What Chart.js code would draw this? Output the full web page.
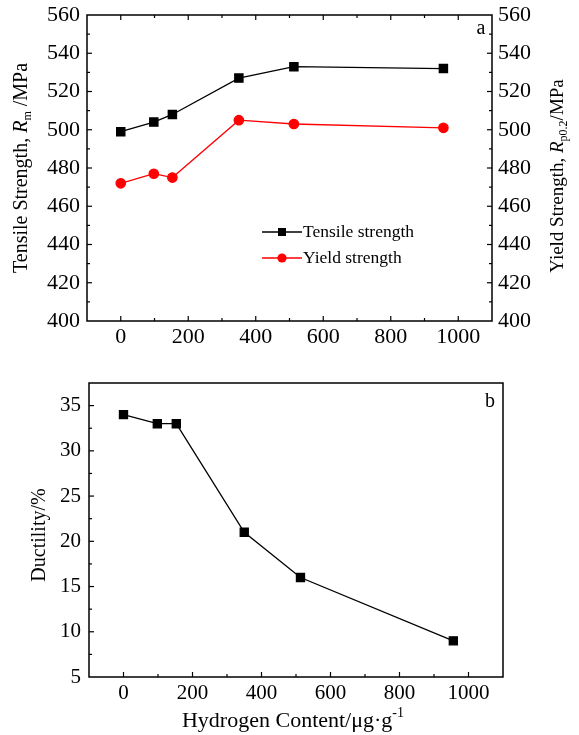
<!DOCTYPE html>
<html>
<head>
<meta charset="utf-8">
<script src="https://cdn.jsdelivr.net/npm/chart.js@4.4.1/dist/chart.umd.min.js"></script>
<style>
  html, body { margin: 0; padding: 0; background: #fff; }
  #wrapA { position: absolute; left: 0; top: 0; width: 579px; height: 370px; }
  #wrapB { position: absolute; left: 0; top: 370px; width: 579px; height: 365px; }
</style>
</head>
<body>
<div id="wrapA"><canvas id="chartA" width="579" height="370"></canvas></div>
<div id="wrapB"><canvas id="chartB" width="579" height="365"></canvas></div>
<script>
// data
const hydrogen = [0, 98, 153, 350, 513, 956];
const tensile = [499, 504, 508, 527, 533, 532];
const yieldStr = [472, 477, 475, 505, 503, 501];
const ductility = [34, 33, 33, 21, 16, 9];

const xTicks = [0, 200, 400, 600, 800, 1000];
const strengthTicks = [400, 420, 440, 460, 480, 500, 520, 540, 560];
const ductilityTicks = [5, 10, 15, 20, 25, 30, 35];

const FONT = "'Liberation Serif', 'Times New Roman', serif";

function pts(xs, ys) {
    return xs.map((x, i) => ({ x: x, y: ys[i] }));
}

function setTicks(list) {
    return (scale) => { scale.ticks = list.map(v => ({ value: v })); };
}

// fixed box size, no extra label padding
function fixW(w) {
    return (s) => { s.width = w; s.paddingTop = 0; s.paddingBottom = 0; };
}
function fixH(h) {
    return (s) => { s.height = h; s.paddingLeft = 0; s.paddingRight = 0; };
}

const plain = (v) => String(v);

// text with italic / sub / sup pieces, centred at (x, y)
function drawRich(ctx, parts, x, y, size, rot) {
    ctx.save();
    ctx.translate(x, y);
    if (rot) ctx.rotate(rot);
    ctx.fillStyle = "#000";
    ctx.textBaseline = "middle";
    ctx.textAlign = "left";
    const fontOf = (p) => {
        const s = (p.sub || p.sup) ? Math.round(size * 0.62) : size;
        return (p.italic ? "italic " : "") + s + "px " + FONT;
    };
    let w = 0;
    parts.forEach(p => { ctx.font = fontOf(p); w += ctx.measureText(p.t).width; });
    let cx = -w / 2;
    parts.forEach(p => {
        ctx.font = fontOf(p);
        let dy = 0;
        if (p.sub) dy = size * 0.3;
        if (p.sup) dy = -size * 0.35;
        ctx.fillText(p.t, cx, dy);
        cx += ctx.measureText(p.t).width;
    });
    ctx.restore();
}

// frame plus inward ticks (major + minor)
function frameTicks(specs) {
    return {
        id: "frameTicks",
        afterDraw(chart) {
            const ctx = chart.ctx, a = chart.chartArea;
            ctx.save();
            ctx.strokeStyle = "#000";
            ctx.lineWidth = 1.5;
            ctx.strokeRect(a.left, a.top, a.right - a.left, a.bottom - a.top);
            ctx.lineWidth = 1.2;
            specs.forEach(sp => {
                const sc = chart.scales[sp.scale];
                const vals = sc.ticks.map(t => t.value);
                const marks = [];
                vals.forEach((v, i) => {
                    marks.push([v, 5]);
                    if (i < vals.length - 1) marks.push([(v + vals[i + 1]) / 2, 3]);
                });
                const step = vals[1] - vals[0];
                marks.push([vals[0] - step / 2, 3]);
                marks.push([vals[vals.length - 1] + step / 2, 3]);
                marks.forEach(([v, len]) => {
                    if (v <= sc.min || v >= sc.max) return;
                    const p = sc.getPixelForValue(v);
                    ctx.beginPath();
                    if (sp.side === "bottom") { ctx.moveTo(p, a.bottom); ctx.lineTo(p, a.bottom - len); }
                    if (sp.side === "top") { ctx.moveTo(p, a.top); ctx.lineTo(p, a.top + len); }
                    if (sp.side === "left") { ctx.moveTo(a.left, p); ctx.lineTo(a.left + len, p); }
                    if (sp.side === "right") { ctx.moveTo(a.right, p); ctx.lineTo(a.right - len, p); }
                    ctx.stroke();
                });
            });
            ctx.restore();
        }
    };
}

const fontA = { family: FONT, size: 22 };
const fontB = { family: FONT, size: 21 };

// ---- chart a ----
const annotA = {
    id: "annotA",
    afterDraw(chart) {
        const ctx = chart.ctx;
        drawRich(ctx, [{ t: "Tensile Strength, " }, { t: "R", italic: true }, { t: "m", sub: true }, { t: " /MPa" }], 22, 168, 20, -Math.PI / 2);
        drawRich(ctx, [{ t: "Yield Strength, " }, { t: "R", italic: true }, { t: "p0.2", sub: true }, { t: "/MPa" }], 558, 176, 19, -Math.PI / 2);
        drawRich(ctx, [{ t: "a" }], 481, 29, 20, 0);

        // legend
        const items = [
            { label: "Tensile strength", color: "#000", style: "rect", y: 232 },
            { label: "Yield strength", color: "#f00", style: "circle", y: 258 }
        ];
        items.forEach(it => {
            ctx.save();
            ctx.strokeStyle = it.color;
            ctx.fillStyle = it.color;
            ctx.lineWidth = 1.3;
            ctx.beginPath();
            ctx.moveTo(262, it.y);
            ctx.lineTo(302, it.y);
            ctx.stroke();
            if (it.style === "rect") {
                ctx.fillRect(278, it.y - 4, 8, 8);
            } else {
                ctx.beginPath();
                ctx.arc(282, it.y, 4.6, 0, Math.PI * 2);
                ctx.fill();
            }
            ctx.fillStyle = "#000";
            ctx.font = "17.5px " + FONT;
            ctx.textBaseline = "middle";
            ctx.fillText(it.label, 303, it.y);
            ctx.restore();
        });
    }
};

new Chart(document.getElementById("chartA"), {
    type: "line",
    data: {
        datasets: [
            {
                label: "Tensile strength",
                data: pts(hydrogen, tensile),
                borderColor: "#000",
                backgroundColor: "#000",
                borderWidth: 1.3,
                pointStyle: "rect",
                pointRadius: 5.8,
                tension: 0,
                yAxisID: "y"
            },
            {
                label: "Yield strength",
                data: pts(hydrogen, yieldStr),
                borderColor: "#f00",
                backgroundColor: "#f00",
                borderWidth: 1.3,
                pointStyle: "circle",
                pointRadius: 4.7,
                tension: 0,
                yAxisID: "y2"
            }
        ]
    },
    options: {
        responsive: false,
        animation: false,
        layout: { padding: { top: 15, left: 0, right: 0, bottom: 0 } },
        plugins: { legend: { display: false }, tooltip: { enabled: false } },
        scales: {
            x: {
                type: "linear", min: -100, max: 1100,
                afterBuildTicks: setTicks(xTicks),
                afterFit: fixH(49),
                grid: { display: false, drawTicks: false },
                border: { display: false },
                ticks: { font: fontA, color: "#000", padding: 3, maxRotation: 0, callback: plain }
            },
            y: {
                position: "left", min: 400, max: 560,
                afterBuildTicks: setTicks(strengthTicks),
                afterFit: fixW(87),
                grid: { display: false, drawTicks: false },
                border: { display: false },
                ticks: { font: fontA, color: "#000", padding: 7, callback: plain }
            },
            y2: {
                position: "right", min: 400, max: 560,
                afterBuildTicks: setTicks(strengthTicks),
                afterFit: fixW(87),
                grid: { display: false, drawTicks: false },
                border: { display: false },
                ticks: { font: fontA, color: "#000", padding: 6, callback: plain }
            }
        }
    },
    plugins: [frameTicks([
        { scale: "x", side: "bottom" }, { scale: "x", side: "top" },
        { scale: "y", side: "left" }, { scale: "y2", side: "right" }
    ]), annotA]
});

// ---- chart b ----
const annotB = {
    id: "annotB",
    afterDraw(chart) {
        const ctx = chart.ctx;
        drawRich(ctx, [{ t: "Ductility/%" }], 40, 165, 20, -Math.PI / 2);
        drawRich(ctx, [{ t: "Hydrogen Content/\u03bcg\u00b7g" }, { t: "-1", sup: true }], 293, 351, 22, 0);
        drawRich(ctx, [{ t: "b" }], 490, 32, 20, 0);
    }
};

new Chart(document.getElementById("chartB"), {
    type: "line",
    data: {
        datasets: [{
            label: "Ductility",
            data: pts(hydrogen, ductility),
            borderColor: "#000",
            backgroundColor: "#000",
            borderWidth: 1.3,
            pointStyle: "rect",
            pointRadius: 5.7,
            tension: 0
        }]
    },
    options: {
        responsive: false,
        animation: false,
        layout: { padding: { top: 13, left: 0, right: 76, bottom: 0 } },
        plugins: { legend: { display: false }, tooltip: { enabled: false } },
        scales: {
            x: {
                type: "linear", min: -100, max: 1100,
                afterBuildTicks: setTicks(xTicks),
                afterFit: fixH(58),
                grid: { display: false, drawTicks: false },
                border: { display: false },
                ticks: { font: fontB, color: "#000", padding: 4, maxRotation: 0, callback: plain }
            },
            y: {
                position: "left", min: 5, max: 37.5,
                afterBuildTicks: setTicks(ductilityTicks),
                afterFit: fixW(89),
                grid: { display: false, drawTicks: false },
                border: { display: false },
                ticks: { font: fontB, color: "#000", padding: 8, callback: plain }
            }
        }
    },
    plugins: [frameTicks([
        { scale: "x", side: "bottom" }, { scale: "y", side: "left" }
    ]), annotB]
});
</script>
</body>
</html>
